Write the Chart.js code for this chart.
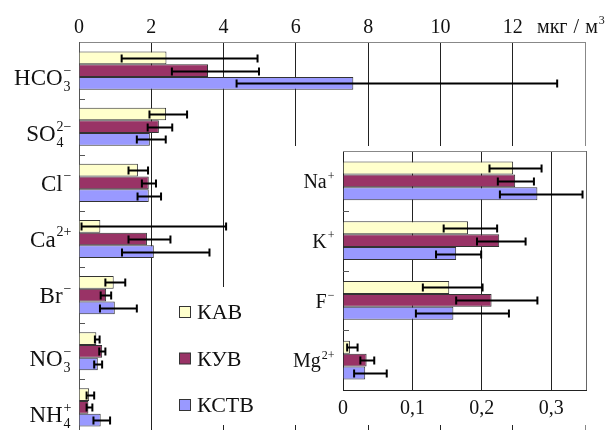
<!DOCTYPE html>
<html><head><meta charset="utf-8">
<script src="https://cdn.jsdelivr.net/npm/chart.js@4/dist/chart.umd.min.js"></script>
</head><body style="margin:0;overflow:hidden;background:#fff">
<div id="wrap" style="position:relative;width:612px;height:430px;overflow:hidden">
<canvas id="main" width="612" height="440"></canvas>
<canvas id="inset" width="332" height="279" style="position:absolute;left:280px;top:146px;background:#fff"></canvas>
</div>
<script>
const FONT = '"Liberation Serif", Tinos, "Times New Roman", serif';

// ---- Main chart data (мкг/м3) ----
const categories = ['HCO3−', 'SO42−', 'Cl−', 'Ca2+', 'Br−', 'NO3−', 'NH4+'];
const ionBase = ['HCO', 'SO', 'Cl', 'Ca', 'Br', 'NO', 'NH'];
const ionSub  = ['3', '4', '', '', '', '3', '4'];
const ionSup  = ['−', '2−', '−', '2+', '−', '−', '+'];
const seriesNames = ['КАВ', 'КУВ', 'КСТВ'];
const kab    = [2.42, 2.41, 1.63, 0.59, 0.96, 0.48, 0.28];
const kabLo  = [1.18, 1.95, 1.37, 0.07, 0.73, 0.44, 0.21];
const kabHi  = [4.94, 2.99, 1.91, 4.07, 1.28, 0.57, 0.42];
const kuv    = [3.57, 2.21, 1.93, 1.88, 0.75, 0.64, 0.26];
const kuvLo  = [2.57, 1.90, 1.74, 1.37, 0.60, 0.56, 0.21];
const kuvHi  = [4.98, 2.58, 2.13, 2.53, 0.89, 0.73, 0.37];
const kstv   = [7.59, 1.96, 1.93, 2.07, 0.99, 0.52, 0.60];
const kstvLo = [4.36, 1.60, 1.62, 1.19, 0.58, 0.42, 0.40];
const kstvHi = [13.23, 2.40, 2.27, 3.61, 1.60, 0.64, 0.86];
const mainTickValues = [0, 2, 4, 6, 8, 10, 12, 14];
const mainMax = 14;

// ---- Inset data ----
const insetCategories = ['Na+', 'K+', 'F−', 'Mg2+'];
const insetBase = ['Na', 'K', 'F', 'Mg'];
const insetSup  = ['+', '+', '−', '2+'];
const kabI    = [0.245, 0.180, 0.153, 0.010];
const kabILo  = [0.211, 0.145, 0.115, 0.006];
const kabIHi  = [0.286, 0.222, 0.201, 0.021];
const kuvI    = [0.248, 0.225, 0.214, 0.034];
const kuvILo  = [0.223, 0.193, 0.163, 0.025];
const kuvIHi  = [0.275, 0.263, 0.280, 0.045];
const kstvI   = [0.280, 0.163, 0.159, 0.032];
const kstvILo = [0.226, 0.134, 0.105, 0.016];
const kstvIHi = [0.345, 0.199, 0.239, 0.063];
const insetTickValues = [0, 0.1, 0.2, 0.3, 0.35];
const insetMax = 0.35;

const colors = ['#FFFFCC', '#993366', '#9999FF'];
const TEXT = '#111';
const INSET_X = 280, INSET_Y = 146;

const mainFmt = v => v === mainMax ? '' : String(v);
const insetFmt = v => v === 0 ? '0' : (v === insetMax ? '' : v.toFixed(1).replace('.', ','));

// ---------- HTML text helpers ----------
const wrap = document.getElementById('wrap');
function addLabel(html, x, baseline, size, align) {
  const d = document.createElement('div');
  d.style.position = 'absolute';
  d.style.whiteSpace = 'nowrap';
  d.style.color = TEXT;
  d.style.fontFamily = FONT;
  d.style.fontSize = size + 'px';
  d.style.lineHeight = size + 'px';
  d.style.top = (baseline - 0.8375 * size).toFixed(2) + 'px';
  if (align === 'right') d.style.right = (612 - x).toFixed(2) + 'px';
  else if (align === 'center') { d.style.left = x.toFixed(2) + 'px'; d.style.transform = 'translateX(-50%)'; }
  else d.style.left = x.toFixed(2) + 'px';
  d.innerHTML = html;
  wrap.appendChild(d);
}
function scripts(sub, sup, size) {
  const s = Math.round(size * 0.6);
  const cw = t => [...t].reduce((w, c) => w + (/[0-9]/.test(c) ? 0.5 : 0.564) * s, 0);
  const W = Math.max(cw(sub), cw(sup)) + 1.5;
  const inner = (t, b) => t ? `<span style="position:absolute;left:1px;top:${(b - 0.8375 * s).toFixed(2)}px;font-size:${s}px;line-height:${s}px">${t}</span>` : '';
  return `<span style="position:relative;display:inline-block;width:${W.toFixed(1)}px;height:0">${inner(sup, -0.42 * size)}${inner(sub, 0.27 * size)}</span>`;
}

function errorBarsPlugin(cap) {
  return {
    id: 'errorBars',
    afterDatasetsDraw(chart) {
      const ctx = chart.ctx, xs = chart.scales.x;
      chart.data.datasets.forEach((ds, di) => {
        const meta = chart.getDatasetMeta(di);
        meta.data.forEach((bar, i) => {
          const y = Math.round(bar.y) + 0.5;
          const x1 = xs.getPixelForValue(ds.lo[i]);
          const x2 = xs.getPixelForValue(ds.hi[i]);
          ctx.save();
          ctx.strokeStyle = '#000';
          ctx.lineWidth = 2;
          ctx.beginPath();
          ctx.moveTo(x1, y); ctx.lineTo(x2, y);
          ctx.moveTo(x1, y - cap); ctx.lineTo(x1, y + cap);
          ctx.moveTo(x2, y - cap); ctx.lineTo(x2, y + cap);
          ctx.stroke();
          ctx.restore();
        });
      });
    }
  };
}

function catTicks(ctx, chart) {
  const ys = chart.scales.y, a = chart.chartArea;
  ctx.save();
  ctx.strokeStyle = '#555';
  ctx.lineWidth = 1;
  ctx.beginPath();
  const n = chart.data.labels.length;
  for (let i = 0; i < n - 1; i++) {
    const y = Math.round((ys.getPixelForValue(i) + ys.getPixelForValue(i + 1)) / 2) + 0.5;
    ctx.moveTo(a.left, y); ctx.lineTo(a.left + 6, y);
  }
  ctx.stroke();
  ctx.restore();
}

const mainDecor = {
  id: 'mainDecor',
  afterDraw(chart) {
    const ctx = chart.ctx;
    catTicks(ctx, chart);
    ctx.save();
    ctx.fillStyle = '#fff';
    ctx.fillRect(165, 287, 115, 138);
    chart.data.datasets.forEach((ds, i) => {
      const cy = 311.5 + i * 46.5;
      ctx.fillStyle = ds.backgroundColor;
      ctx.fillRect(179.5, cy - 5, 11, 11);
      ctx.strokeStyle = '#333';
      ctx.lineWidth = 1;
      ctx.strokeRect(179.5, cy - 5, 11, 11);
    });
    ctx.restore();
  }
};

const insetDecor = {
  id: 'insetDecor',
  afterDraw(chart) {
    const ctx = chart.ctx, a = chart.chartArea;
    catTicks(ctx, chart);
    ctx.save();
    ctx.strokeStyle = '#888';
    ctx.lineWidth = 1;
    ctx.beginPath();
    ctx.moveTo(a.left, Math.round(a.top) + 0.5);
    ctx.lineTo(a.right, Math.round(a.top) + 0.5);
    ctx.stroke();
    ctx.restore();
  }
};

function mkDatasets(vals, los, his) {
  return seriesNames.map((name, i) => ({
    label: name, data: vals[i], lo: los[i], hi: his[i],
    backgroundColor: colors[i], borderColor: '#333', borderWidth: 1
  }));
}

Chart.defaults.font.family = FONT;

const mainChart = new Chart(document.getElementById('main'), {
  type: 'bar',
  data: { labels: categories, datasets: mkDatasets([kab, kuv, kstv], [kabLo, kuvLo, kstvLo], [kabHi, kuvHi, kstvHi]) },
  options: {
    indexAxis: 'y', responsive: false, animation: false,
    layout: { padding: { left: 0, right: 27, top: 0, bottom: 4.5 } },
    plugins: { legend: { display: false }, tooltip: { enabled: false } },
    datasets: { bar: { categoryPercentage: 0.68, barPercentage: 1.0 } },
    scales: {
      x: {
        position: 'top', min: 0, max: mainMax,
        afterBuildTicks(s) { s.ticks = mainTickValues.map(v => ({ value: v })); },
        ticks: { font: { family: FONT, size: 20 }, color: 'rgba(0,0,0,0)', padding: 5, callback: mainFmt },
        grid: { drawTicks: false, lineWidth: 1, color: c => (c.tick && c.tick.value === mainMax) ? '#888' : '#222' },
        border: { color: '#888' },
        afterFit(s) { s.height = 42.5; }
      },
      y: {
        ticks: { display: false }, grid: { display: false }, border: { color: '#555' },
        afterFit(s) { s.width = 79; }
      }
    }
  },
  plugins: [errorBarsPlugin(4), mainDecor]
});

const insetChart = new Chart(document.getElementById('inset'), {
  type: 'bar',
  data: { labels: insetCategories, datasets: mkDatasets([kabI, kuvI, kstvI], [kabILo, kuvILo, kstvILo], [kabIHi, kuvIHi, kstvIHi]) },
  options: {
    indexAxis: 'y', responsive: false, animation: false,
    layout: { padding: { left: 0, right: 26, top: 5, bottom: 0 } },
    plugins: { legend: { display: false }, tooltip: { enabled: false } },
    datasets: { bar: { categoryPercentage: 0.65, barPercentage: 1.0 } },
    scales: {
      x: {
        position: 'bottom', min: 0, max: insetMax,
        afterBuildTicks(s) { s.ticks = insetTickValues.map(v => ({ value: v })); },
        ticks: { font: { family: FONT, size: 20 }, color: 'rgba(0,0,0,0)', padding: 5, callback: insetFmt },
        grid: { drawTicks: false, lineWidth: 1, color: c => (c.tick && c.tick.value === insetMax) ? '#666' : '#222' },
        border: { color: '#222' },
        afterFit(s) { s.height = 35; }
      },
      y: {
        ticks: { display: false }, grid: { display: false }, border: { color: '#222' },
        afterFit(s) { s.width = 63; }
      }
    }
  },
  plugins: [errorBarsPlugin(4), insetDecor]
});

// ---------- text (positioned from the charts' scales) ----------
(function placeText() {
  const ma = mainChart.chartArea, mx = mainChart.scales.x, my = mainChart.scales.y;
  mx.ticks.forEach(t => {
    const txt = mainFmt(t.value);
    if (txt) addLabel(txt, mx.getPixelForValue(t.value), ma.top - 10.25, 20, 'center');
  });
  addLabel('мкг<span style="margin:0 6px">/</span>м' + scripts('', '3', 20), 537, ma.top - 10.25, 20, 'left');
  categories.forEach((c, i) => {
    const y = my.getPixelForValue(i);
    addLabel(ionBase[i] + scripts(ionSub[i], ionSup[i], 23), ma.left - 7, y + 8 + (ionSub[i] ? 7 : 0), 23, 'right');
  });
  mainChart.data.datasets.forEach((ds, i) => {
    addLabel(ds.label, 197, 319.5 + i * 46.5, 22, 'left');
  });
  const ia = insetChart.chartArea, ix = insetChart.scales.x, iy = insetChart.scales.y;
  ix.ticks.forEach(t => {
    const txt = insetFmt(t.value);
    if (txt) addLabel(txt, INSET_X + ix.getPixelForValue(t.value), INSET_Y + ia.bottom + 23.75, 20, 'center');
  });
  insetCategories.forEach((c, i) => {
    const y = iy.getPixelForValue(i);
    addLabel(insetBase[i] + scripts('', insetSup[i], 20), INSET_X + ia.left - 8, INSET_Y + y + 7, 20, 'right');
  });
})();
</script>
</body></html>
